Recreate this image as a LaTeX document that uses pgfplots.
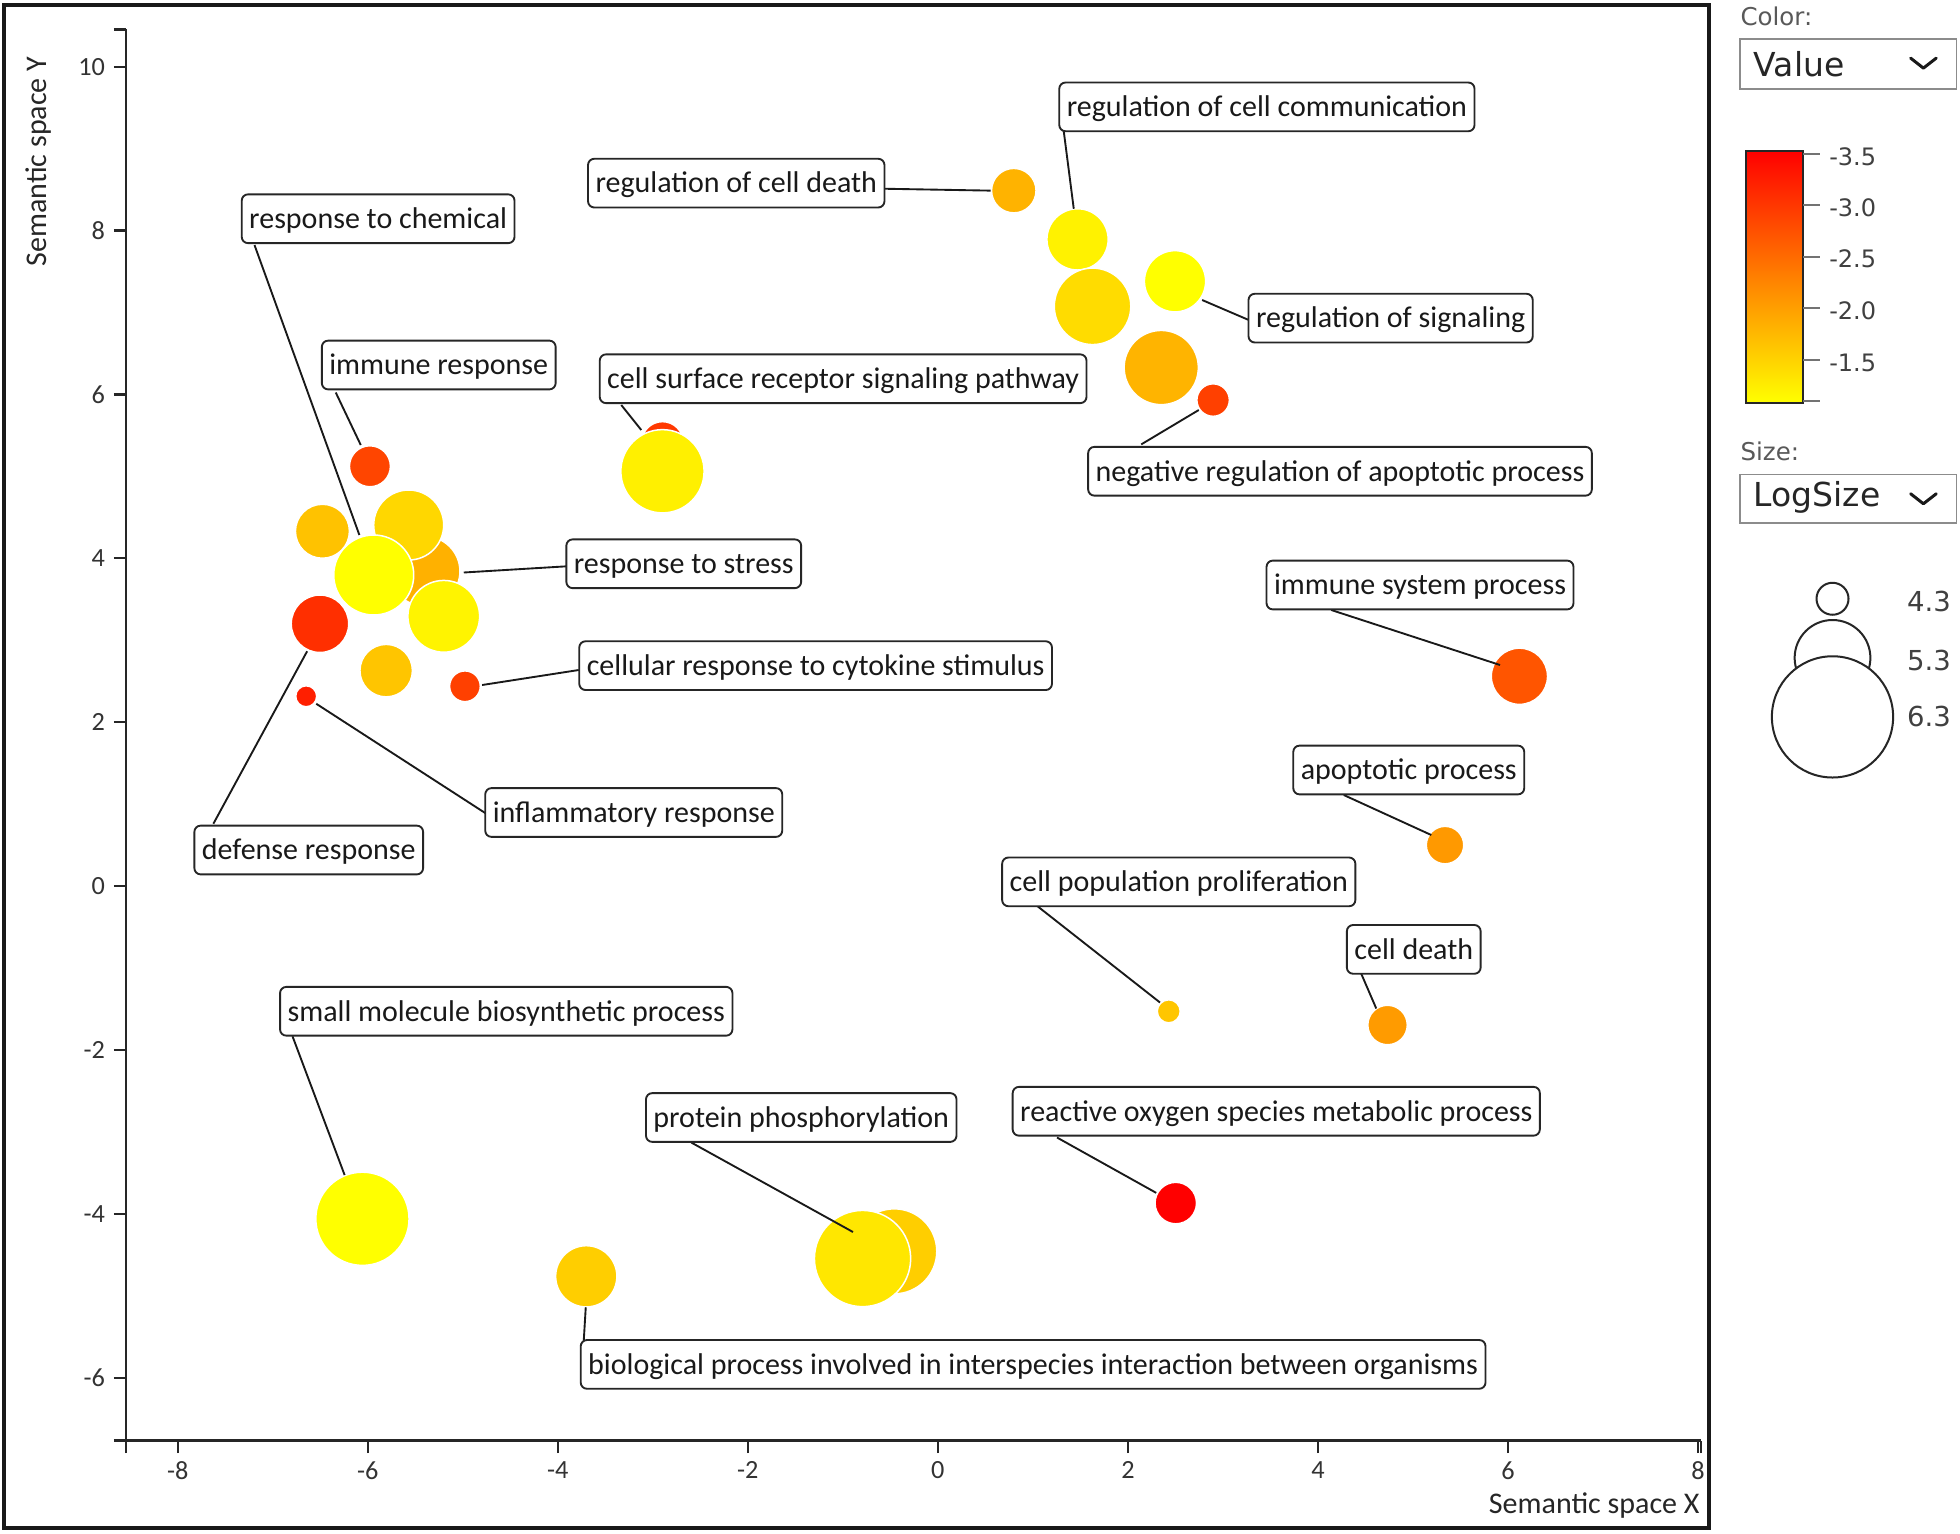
\documentclass[border=0pt]{standalone}
\usepackage{fontspec}
\setmainfont{Carlito}
\newfontfamily\dejavu{DejaVu Sans}
\usepackage{pgfplots}
\pgfplotsset{compat=1.18}
\begin{document}
\begin{tikzpicture}
\useasboundingbox (0,0) rectangle (784pt,-613.2pt);
\fill[white] (0,0) rectangle (784pt,-613.2pt);
\begin{axis}[
  at={(50.5pt,-576.2pt)}, anchor=south west,
  scale only axis, width=629.95pt, height=564.45pt,
  xmin=-8.543, xmax=8.034, ymin=-6.767, ymax=10.455,
  axis lines=left, axis line style={-, line width=0.9pt, draw=black!85},
  xtick={-8,-6,...,8}, ytick={-6,-4,...,10},
  extra x ticks={-8.543,8.034}, extra x tick labels={},
  extra y ticks={-6.767,10.455}, extra y tick labels={},
  extra tick style={grid=none},
  tick align=outside, major tick length=5pt,
  tick style={line width=0.9pt, black!85},
  ticklabel style={font=\fontsize{10.5}{12}\selectfont, text=black!80},
  /pgf/number format/assume math mode=true,
  colormap={yr}{rgb255=(255,0,0) rgb255=(255,255,0)},
  point meta min=-3.53, point meta max=-1.081,
]
\addplot[scatter, only marks, mark=*, point meta=explicit,
  mark options={line width=0.6pt},
  scatter/use mapped color={draw=white, fill=mapped color},
  visualization depends on={\thisrow{r}\as\rad},
  scatter/@pre marker code/.append style={/tikz/mark size=0.5*\rad}]
table[x=x, y=y, meta=v]{
x y r v
0.799 8.487 17.8 -1.82
1.470 7.892 24.5 -1.22
1.628 7.075 30.6 -1.43
2.496 7.381 24.5 -1.10
2.351 6.328 29.7 -1.81
2.897 5.931 13.0 -2.92
-2.899 5.413 16.7 -3.00
-2.899 5.062 33.3 -1.24
-5.399 3.841 28.0 -1.84
-5.570 4.406 28.0 -1.48
-6.478 4.330 21.6 -1.68
-5.938 3.796 32.0 -1.08
-5.201 3.292 28.7 -1.20
-6.504 3.201 23.0 -3.08
-5.807 2.629 21.0 -1.65
-4.978 2.438 12.3 -2.92
-6.649 2.316 8.4 -3.23
-5.978 5.123 16.4 -2.87
6.121 2.560 22.5 -2.72
5.338 0.500 15.0 -2.07
2.430 -1.529 9.2 -1.64
4.733 -1.696 15.8 -2.05
2.504 -3.869 16.6 -3.53
-6.057 -4.061 37.3 -1.08
-0.459 -4.458 34.0 -1.57
-0.793 -4.546 38.5 -1.33
-3.701 -4.763 24.5 -1.57
};
\end{axis}
\begin{scope}[x=0.5pt, y=-0.5pt,
  lbl/.style={draw=black!85, line width=0.75pt, rounded corners=2.5pt, fill=white,
    inner xsep=3pt, inner ysep=0pt, minimum height=19.5pt,
    text height=9.8pt, text depth=2pt,
    font=\fontsize{12}{14}\selectfont, text=black!90},
  ld/.style={line width=0.75pt, black!90},
  cbl/.style={anchor=base west, inner sep=0pt, font=\dejavu\fontsize{9.6}{10}\selectfont, text=black!75}]
% frame
\draw[line width=1.6pt, black!90] (2.9,4) rectangle (1367.4,1222.6);
% axis titles
\node[rotate=90, anchor=base east, inner sep=0pt, font=\fontsize{12}{14}\selectfont, text=black!85] at (37.5,45) {Semantic space Y};
\node[anchor=base east, inner sep=0pt, font=\fontsize{12}{14}\selectfont, text=black!85] at (1360,1210.7) {Semantic space X};
% leader lines
\draw[ld] (851,105) -- (859,167);
\draw[ld] (708,151) -- (792.5,152.5);
\draw[ld] (203.6,196) -- (287.5,428);
\draw[ld] (268.6,314) -- (288.6,356);
\draw[ld] (497,324) -- (513,344);
\draw[ld] (961.7,240) -- (999,256);
\draw[ld] (913,355.5) -- (959,328);
\draw[ld] (371,458) -- (454,453);
\draw[ld] (385.7,548) -- (463,536);
\draw[ld] (1065,488) -- (1200,532);
\draw[ld] (253,563) -- (388.6,650.7);
\draw[ld] (245.7,521) -- (170.7,659);
\draw[ld] (1075,636) -- (1145,668);
\draw[ld] (830,725) -- (928,802);
\draw[ld] (1089,779) -- (1101,806.8);
\draw[ld] (234,829) -- (275.7,940);
\draw[ld] (553,914) -- (682.4,985.6);
\draw[ld] (845.6,910) -- (925,954.3);
\draw[ld] (468.6,1045.8) -- (467,1072.6);
% labels
\node[lbl] at (1013.5,85.5) {regulation of cell communication};
\node[lbl] at (589,146.5) {regulation of cell death};
\node[lbl] at (302.5,175) {response to chemical};
\node[lbl] at (351,292) {immune response};
\node[lbl] at (674.5,303) {cell surface receptor signaling pathway};
\node[lbl] at (1112.5,254.5) {regulation of signaling};
\node[lbl] at (1072,377) {negative regulation of apoptotic process};
\node[lbl] at (547,451) {response to stress};
\node[lbl] at (652.5,532.5) {cellular response to cytokine stimulus};
\node[lbl] at (1136,468) {immune system process};
\node[lbl] at (507,650) {inflammatory response};
\node[lbl] at (247,680) {defense response};
\node[lbl] at (1127,616) {apoptotic process};
\node[lbl] at (943,705.5) {cell population proliferation};
\node[lbl] at (1131,759.5) {cell death};
\node[lbl] at (405,809) {small molecule biosynthetic process};
\node[lbl] at (641,894) {protein phosphorylation};
\node[lbl] at (1021,889) {reactive oxygen species metabolic process};
\node[lbl] at (826.5,1091.5) {biological process involved in interspecies interaction between organisms};
% legend panel: colour
\node[anchor=base west, inner sep=0pt, font=\dejavu\fontsize{9.8}{11}\selectfont, text=black!65] at (1392,20) {Color:};
\draw[black!45, line width=0.6pt] (1392,31) rectangle (1565,71);
\node[anchor=base west, inner sep=0pt, font=\dejavu\fontsize{13.2}{15}\selectfont, text=black!85] at (1402.7,61) {Value};
\draw[line width=1.2pt, black!90, line cap=round, line join=round] (1528.5,46.5) -- (1538.7,54.5) -- (1549,46.5);
\shade[top color=red, bottom color=yellow] (1397,120.5) rectangle (1442.6,322.6);
\draw[line width=0.8pt, black!85] (1397,120.5) rectangle (1442.6,322.6);
\foreach \yy in {123,164,205.3,246.7,288,320.5} {\draw[black!55, line width=0.8pt] (1442.6,\yy) -- (1456,\yy);}
\node[cbl] at (1463,132) {-3.5};
\node[cbl] at (1463,173) {-3.0};
\node[cbl] at (1463,214.3) {-2.5};
\node[cbl] at (1463,255.7) {-2.0};
\node[cbl] at (1463,297) {-1.5};
% legend panel: size
\node[anchor=base west, inner sep=0pt, font=\dejavu\fontsize{9.8}{11}\selectfont, text=black!65] at (1392,368) {Size:};
\draw[black!45, line width=0.6pt] (1392,379.6) rectangle (1565,418.4);
\node[anchor=base west, inner sep=0pt, font=\dejavu\fontsize{13.2}{15}\selectfont, text=black!85] at (1402.7,405) {LogSize};
\draw[line width=1.2pt, black!90, line cap=round, line join=round] (1528.5,395) -- (1538.7,403) -- (1549,395);
\draw[line width=0.8pt, black!85] (1466,526.3) circle (30.3);
\draw[line width=0.8pt, black!85, fill=white] (1466,573.5) circle (48.5);
\draw[line width=0.8pt, black!85] (1466,479) circle (12.8);
\node[anchor=base west, inner sep=0pt, font=\dejavu\fontsize{11}{12}\selectfont, text=black!75] at (1525.3,489.3) {4.3};
\node[anchor=base west, inner sep=0pt, font=\dejavu\fontsize{11}{12}\selectfont, text=black!75] at (1525.3,536) {5.3};
\node[anchor=base west, inner sep=0pt, font=\dejavu\fontsize{11}{12}\selectfont, text=black!75] at (1525.3,581.3) {6.3};
\end{scope}
\end{tikzpicture}
\end{document}
